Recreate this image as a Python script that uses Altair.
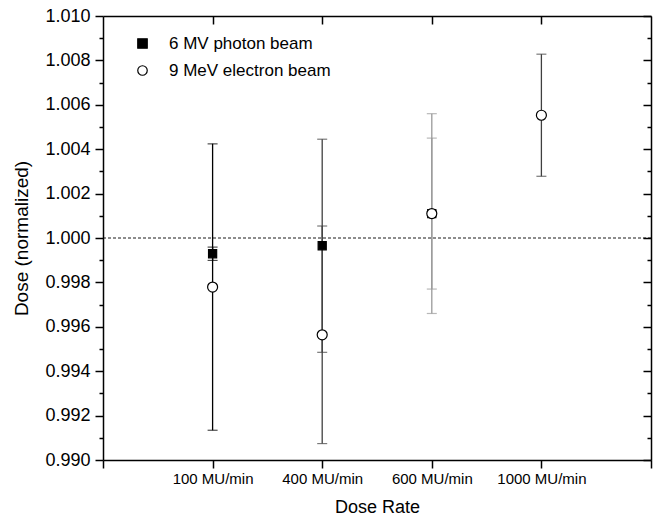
import json
import altair as alt
import pandas as pd

categories = ["100 MU/min", "400 MU/min", "600 MU/min", "1000 MU/min"]
cat_pos = [1, 2, 3, 4]
series_names = ["6 MV photon beam", "9 MeV electron beam"]
photon_dose = [0.99929, 0.99965, 1.0011, None]
photon_err = [0.0003, 0.0048, 0.0034, None]
electron_dose = [0.99779, 0.99564, 1.0011, 1.00553]
electron_err = [0.00645, 0.0049, 0.0045, 0.00275]
bar_colors = ["#000000", "#404040", "#9a9a9a", "#404040"]
y_ticks = [0.990, 0.991, 0.992, 0.993, 0.994, 0.995, 0.996, 0.997, 0.998, 0.999,
           1.000, 1.001, 1.002, 1.003, 1.004, 1.005, 1.006, 1.007, 1.008, 1.009, 1.010]
x_ticks = [0, 1, 2, 3, 4, 5]
reference_level = 1.0

rows = []
for k, (name, doses, errs) in enumerate([(series_names[0], photon_dose, photon_err),
                                         (series_names[1], electron_dose, electron_err)]):
    for i, (d, e) in enumerate(zip(doses, errs)):
        if d is None:
            continue
        rows.append({"pos": cat_pos[i], "cat": categories[i], "dose": d,
                     "lo": d - e, "hi": d + e, "series": name, "order": k,
                     "color": bar_colors[i]})
df = pd.DataFrame(rows)

FONT = "Liberation Sans"
label_arr = json.dumps([""] + categories + [""]).replace('"', "'")
x_label_expr = f"{label_arr}[round(datum.value)]"
is_major = "abs(round(datum.value*1000)) % 2 == 0"
y_label_expr = f"{is_major} ? format(datum.value, '.3f') : ''"

xscale = alt.Scale(domain=[0, 5], nice=False, zero=False)
yscale = alt.Scale(domain=[0.990, 1.010], nice=False, zero=False)

x_bottom = alt.Axis(values=x_ticks, labelExpr=x_label_expr, title="Dose Rate",
                    grid=False, tickSize=8, tickWidth=1.5, domainWidth=1.5,
                    domainColor="black", tickColor="black",
                    labelFont=FONT, labelFontSize=15, labelColor="black",
                    labelPadding=3, titleFont=FONT, titleFontSize=18,
                    titleFontWeight="normal", titleColor="black", titlePadding=12)
y_left = alt.Axis(values=y_ticks, labelExpr=y_label_expr, title="Dose (normalized)",
                  grid=False,
                  tickSize={"condition": {"test": is_major, "value": 8}, "value": 4},
                  tickWidth=1.5, domainWidth=1.5, domainColor="black", tickColor="black",
                  labelFont=FONT, labelFontSize=18, labelColor="black", labelPadding=5,
                  titleFont=FONT, titleFontSize=19, titleFontWeight="normal",
                  titleColor="black", titlePadding=13)
x_top = alt.Axis(orient="top", values=[1, 2, 3, 4], labels=False, title=None,
                 grid=False, tickSize={"expr": "-8"}, tickWidth=1.5, domainWidth=1.5,
                 domainColor="black", tickColor="black")
y_right = alt.Axis(orient="right", values=y_ticks, labels=False, title=None, grid=False,
                   tickSize={"condition": {"test": is_major, "value": -8}, "value": -4},
                   tickWidth=1.5, domainWidth=1.5, domainColor="black", tickColor="black")

base = alt.Chart(df)

frame = base.mark_point(opacity=0).encode(
    x=alt.X("pos:Q", scale=xscale, axis=x_top),
    y=alt.Y("dose:Q", scale=yscale, axis=y_right),
)

ref = alt.Chart(pd.DataFrame({"level": [reference_level]})).mark_rule(
    color="black", strokeDash=[3, 2], strokeWidth=0.9
).encode(y=alt.Y("level:Q", scale=yscale, axis=None))

bars = base.mark_rule(strokeWidth=1.3).encode(
    x=alt.X("pos:Q", scale=xscale, axis=x_bottom),
    y=alt.Y("lo:Q", scale=yscale, axis=y_left),
    y2="hi:Q",
    color=alt.Color("color:N", scale=None),
)
cap_lo = base.mark_tick(orient="horizontal", size=10, thickness=1.2).encode(
    x=alt.X("pos:Q", scale=xscale, axis=None), y=alt.Y("lo:Q", scale=yscale, axis=None),
    color=alt.Color("color:N", scale=None),
)
cap_hi = base.mark_tick(orient="horizontal", size=10, thickness=1.2).encode(
    x=alt.X("pos:Q", scale=xscale, axis=None), y=alt.Y("hi:Q", scale=yscale, axis=None),
    color=alt.Color("color:N", scale=None),
)

legend = alt.Legend(orient="none", legendX=31, legendY=19, title=None,
                    labelFont=FONT, labelFontSize=17, labelColor="black",
                    labelLimit=400, symbolSize=90, labelOffset=18, rowPadding=9,
                    padding=0, symbolStrokeWidth=1.2)

shape_scale = alt.Scale(domain=series_names, range=["square", "circle"])
fill_scale = alt.Scale(domain=series_names, range=["black", "white"])
stroke_scale = alt.Scale(domain=series_names, range=["black", "black"])


def point_layer(series, size):
    return base.transform_filter(alt.datum.series == series).mark_point(
        filled=True, strokeWidth=1.2, opacity=1, size=size
    ).encode(
        x=alt.X("pos:Q", scale=xscale, axis=None),
        y=alt.Y("dose:Q", scale=yscale, axis=None),
        shape=alt.Shape("series:N", scale=shape_scale, legend=legend),
        fill=alt.Fill("series:N", scale=fill_scale, legend=legend),
        stroke=alt.Stroke("series:N", scale=stroke_scale, legend=legend),
    )


squares = point_layer(series_names[0], 66)
circles = point_layer(series_names[1], 100)

chart = alt.layer(frame, ref, bars, cap_lo, cap_hi, squares, circles).resolve_axis(
    x="independent", y="independent"
).properties(
    width=548, height=444,
    autosize=alt.AutoSizeParams(type="none"),
    padding={"left": 103, "top": 16, "right": 3, "bottom": 67},
    background="white",
).configure_view(stroke=None)

chart.save("out.html", embed_options={"renderer": "svg", "actions": False})
